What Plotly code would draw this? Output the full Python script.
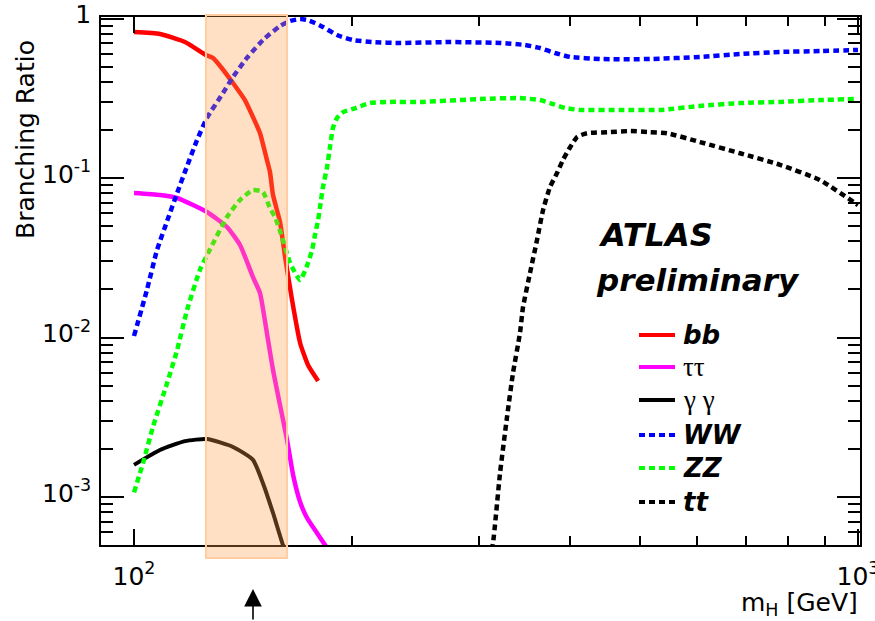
import math
import plotly.graph_objects as go

# ---------------- data ----------------
bb_m = [100, 108.6, 117.6, 125.7, 128.5, 131.5, 137.0, 142.3, 146.0, 149.3, 152.6, 154.1,
        155.6, 159.1, 161.7, 165.3, 169.6, 173.9, 179.6]
bb_br = [0.823, 0.800, 0.712, 0.590, 0.566, 0.504, 0.394, 0.308, 0.241, 0.191, 0.130, 0.109,
         0.0782, 0.0530, 0.0320, 0.0172, 0.00924, 0.00673, 0.00534]

tau_m = [100, 108.6, 114.7, 126.1, 134.4, 140.1, 146.0, 149.3, 152.6, 155.6, 159.1, 162.7,
         165.9, 169.6, 173.4, 176.7, 183.6, 186.5]
tau_br = [0.0805, 0.0782, 0.0749, 0.0612, 0.0493, 0.0380, 0.0239, 0.0190, 0.01067, 0.00625,
          0.00377, 0.00228, 0.00137, 0.000930, 0.000738, 0.000648, 0.000500, 0.000452]

gg_m = [100, 108.6, 117.6, 126.1, 137.0, 146.0, 150.7, 155.6, 160.6, 162.7]
gg_br = [0.00159, 0.00197, 0.00224, 0.00231, 0.00206, 0.00171, 0.00122, 0.000794, 0.000500, 0.000433]

ww_m = [100, 104.2, 107.6, 111.1, 114.7, 118.4, 122.2, 126.1, 132.7, 137.0, 143.2, 150.7,
        159.1, 164.3, 169.6, 173.4, 177.8, 182.4, 190.7, 200.6, 213.8, 233.0, 273.3, 320.3,
        346.8, 363.8, 381.5, 400.3, 440.3, 516.1, 605.1, 687.1, 780.3, 886.3, 1000]
ww_br = [0.01022, 0.0199, 0.0354, 0.0537, 0.0805, 0.1189, 0.173, 0.238, 0.341, 0.430, 0.566,
         0.733, 0.897, 0.965, 0.993, 0.978, 0.937, 0.885, 0.788, 0.733, 0.712, 0.702, 0.712,
         0.702, 0.682, 0.653, 0.608, 0.574, 0.557, 0.557, 0.574, 0.599, 0.617, 0.625, 0.635]

zz_m = [100, 102.9, 106.2, 111.1, 114.7, 118.4, 123.3, 127.4, 134.4, 140.1, 146.0, 150.7,
        154.1, 156.6, 160.1, 164.3, 169.6, 173.9, 176.2, 177.8, 179.6, 180.7, 182.4, 184.8,
        186.5, 188.3, 190.7, 194.4, 200.6, 211.8, 225.8, 250.6, 300.6, 341.3, 363.8, 375.5,
        393.9, 413.0, 469.3, 532.8, 605.1, 687.1, 780.3, 886.3, 1000]
zz_br = [0.00107, 0.00163, 0.00275, 0.00518, 0.00835, 0.0149, 0.0265, 0.0359, 0.0569, 0.0728,
         0.0841, 0.0817, 0.0648, 0.0569, 0.0427, 0.0293, 0.0229, 0.0293, 0.0354, 0.0439,
         0.0545, 0.0658, 0.0878, 0.117, 0.156, 0.206, 0.238, 0.259, 0.271, 0.295, 0.300,
         0.300, 0.313, 0.317, 0.308, 0.295, 0.275, 0.267, 0.267, 0.267, 0.283, 0.295, 0.300,
         0.308, 0.313]

tt_m = [310.2, 313.3, 320.3, 327.5, 333.8, 341.3, 344.6, 352.4, 360.3, 367.3, 375.5, 384.0,
        391.4, 400.3, 409.3, 422.4, 454.6, 484.4, 516.1, 544.8, 605.1, 687.1, 780.3, 886.3,
        990.6, 1000]
tt_br = [0.000403, 0.000515, 0.00141, 0.00317, 0.00599, 0.01067, 0.0155, 0.0254, 0.0409,
         0.0630, 0.0878, 0.1075, 0.130, 0.156, 0.181, 0.191, 0.194, 0.197, 0.194, 0.191,
         0.168, 0.143, 0.121, 0.0971, 0.0697, 0.0677]

band_m = [125.7, 162.7]      # shaded mass window
arrow_m = 146.0               # arrow marker position

x_tickvals = [100, 1000]
x_ticktext = ["10<sup>2</sup>", "10<sup>3</sup>"]
x_minor = [200, 300, 400, 500, 600, 700, 800, 900]
y_tickvals = [1e-3, 1e-2, 1e-1, 1]
y_ticktext = ["10<sup>-3</sup>", "10<sup>-2</sup>", "10<sup>-1</sup>", "1"]
y_minor = [k * 10.0 ** e for e in (-4, -3, -2, -1) for k in range(2, 10) if k * 10.0 ** e >= 5e-4]

legend_entries = [
    ("<b><i>bb</i></b>", "#ff0000", "solid", "DejaVu Sans"),
    ("ττ", "#ff00ff", "solid", "Liberation Serif"),
    ("γ γ", "#000000", "solid", "Liberation Serif"),
    ("<b><i>WW</i></b>", "#0000ff", "6px,4px", "DejaVu Sans"),
    ("<b><i>ZZ</i></b>", "#00ff00", "6px,4px", "DejaVu Sans"),
    ("<b><i>tt</i></b>", "#000000", "6px,4px", "DejaVu Sans"),
]

# ---------------- figure ----------------
W, H = 875, 621
L, R, T, B = 101, 15, 17, 76
ph = H - T - B

def py(p):  # pixel row -> paper y
    return (H - B - p) / ph

def px(p):  # pixel column -> paper x
    return (p - L) / (W - L - R)

fig = go.Figure()
series = [
    (bb_m, bb_br, "#ff0000", "solid", 4.5),
    (tau_m, tau_br, "#ff00ff", "solid", 4.5),
    (gg_m, gg_br, "#000000", "solid", 4),
    (ww_m, ww_br, "#0000ff", "6px,4px", 4.5),
    (zz_m, zz_br, "#00ff00", "6px,4px", 4.5),
    (tt_m, tt_br, "#000000", "6px,4px", 4.5),
]
for xs, ys, col, dash, w in series:
    fig.add_trace(go.Scatter(x=xs, y=ys, mode="lines",
                             line=dict(color=col, width=w, dash=dash, shape="spline", smoothing=0.5),
                             showlegend=False, hoverinfo="skip"))

# shaded band (drawn over the curves, extends slightly below the axis)
fig.add_shape(type="rect", xref="x", yref="paper", x0=band_m[0], x1=band_m[1],
              y0=py(558), y1=py(15), layer="above",
              fillcolor="rgba(255,160,70,0.32)", line=dict(color="rgb(255,205,160)", width=2))

annotations = []
# axis titles
annotations.append(dict(text="Branching Ratio", xref="paper", yref="paper", x=px(26), y=py(140),
                        textangle=-90, showarrow=False, xanchor="center", yanchor="middle",
                        font=dict(family="DejaVu Sans", size=25, color="black")))
annotations.append(dict(text="m<sub>H</sub> [GeV]", xref="paper", yref="paper", x=1.0, y=py(604),
                        showarrow=False, xanchor="right", yanchor="middle",
                        font=dict(family="DejaVu Sans", size=25, color="black")))
# ATLAS label
annotations.append(dict(text="<b><i>ATLAS</i></b>", xref="paper", yref="paper", x=px(596), y=py(235),
                        showarrow=False, xanchor="left", yanchor="middle",
                        font=dict(family="DejaVu Sans", size=32, color="black")))
annotations.append(dict(text="<b><i>preliminary</i></b>", xref="paper", yref="paper", x=px(594), y=py(280),
                        showarrow=False, xanchor="left", yanchor="middle",
                        font=dict(family="DejaVu Sans", size=31, color="black")))
# arrow below the axis
annotations.append(dict(text="", xref="x", yref="paper", x=math.log10(arrow_m), y=py(589),
                        ax=0, ay=34, showarrow=True, arrowhead=2, arrowsize=2.2, arrowwidth=1.6,
                        arrowcolor="black", standoff=0))

# legend
rows = [335, 367, 400, 435, 468, 502]
for (label, col, dash, fam), r in zip(legend_entries, rows):
    fig.add_shape(type="line", xref="paper", yref="paper", x0=px(639), x1=px(675),
                  y0=py(r), y1=py(r), line=dict(color=col, width=4, dash=dash))
    annotations.append(dict(text=label, xref="paper", yref="paper", x=px(681), y=py(r),
                            showarrow=False, xanchor="left", yanchor="middle",
                            font=dict(family=fam, size=26 if fam == "DejaVu Sans" else 27, color="black")))

fig.update_layout(
    width=W, height=H, margin=dict(l=L, r=R, t=T, b=B, autoexpand=False),
    paper_bgcolor="white", plot_bgcolor="white",
    annotations=annotations,
    font=dict(family="DejaVu Sans", size=25, color="black"),
    xaxis=dict(type="log", range=[1.9544, 3.0028], showgrid=False, zeroline=False,
               showline=True, linecolor="black", linewidth=1.5, mirror="allticks",
               ticks="inside", ticklen=16, tickwidth=1.5, tickcolor="black",
               tickmode="array", tickvals=x_tickvals, ticktext=x_ticktext,
               tickfont=dict(family="DejaVu Sans", size=25), ticklabelstandoff=8,
               ticklabeloverflow="allow", automargin=False,
               minor=dict(tickmode="array", tickvals=x_minor, ticks="inside", ticklen=9,
                          tickwidth=1.5, tickcolor="black", showgrid=False)),
    yaxis=dict(type="log", range=[-3.3009, 0.0094], showgrid=False, zeroline=False,
               showline=True, linecolor="black", linewidth=1.5, mirror="allticks",
               ticks="inside", ticklen=23, tickwidth=1.5, tickcolor="black",
               tickmode="array", tickvals=y_tickvals, ticktext=y_ticktext,
               tickfont=dict(family="DejaVu Sans", size=25), ticklabelstandoff=3,
               ticklabelshift=-4, ticklabeloverflow="allow", automargin=False,
               minor=dict(tickmode="array", tickvals=y_minor, ticks="inside", ticklen=12,
                          tickwidth=1.5, tickcolor="black", showgrid=False)),
)

fig.write_html("out.html")
